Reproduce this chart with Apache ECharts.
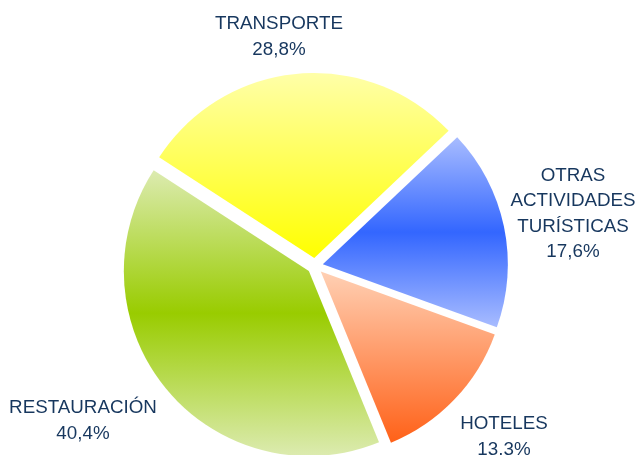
<!DOCTYPE html>
<html>
<head>
<meta charset="utf-8">
<script src="https://cdn.jsdelivr.net/npm/echarts@6/dist/echarts.min.js"></script>
<style>
  html, body { margin: 0; padding: 0; background: #fff; }
  #chart { width: 640px; height: 455px; }
</style>
</head>
<body>
<div id="chart"></div>
<script>
// categorías y porcentajes
var categories = ['TRANSPORTE', 'OTRAS\nACTIVIDADES\nTURÍSTICAS', 'HOTELES', 'RESTAURACIÓN'];
var values = [28.8, 17.6, 13.3, 40.4];
var labelTexts = ['28,8%', '17,6%', '13,3%', '40,4%'];

// degradados tipo Excel (arriba, medio, abajo)
var gradients = [
  [['#ffffa8', 0], ['#ffff00', 1]],
  [['#a8bcff', 0], ['#3366ff', 0.5], ['#a8bcff', 1]],
  [['#ffd0b4', 0], ['#ff6118', 1]],
  [['#dcebb0', 0], ['#99cc00', 0.5], ['#dcebb0', 1]]
];
// posiciones de las etiquetas (centro del bloque de texto)
var labelPos = [[279, 37], [573, 214], [504, 437], [83, 421]];
var LINE_H = 25.5;

var chart = echarts.init(document.getElementById('chart'));

var data = categories.map(function (name, i) {
  return {
    name: name,
    value: values[i],
    selected: true,
    itemStyle: {
      color: new echarts.graphic.LinearGradient(0, 0, 0, 1, gradients[i].map(function (g) {
        return { offset: g[1], color: g[0] };
      }))
    }
  };
});

// etiquetas como textos (el nombre y su porcentaje)
var labels = categories.map(function (name, i) {
  return {
    type: 'text',
    x: labelPos[i][0],
    y: labelPos[i][1],
    silent: true,
    style: {
      text: name + '\n' + labelTexts[i],
      fill: '#17375e',
      font: '18.8px "Liberation Sans", Arial, sans-serif',
      lineHeight: LINE_H,
      align: 'center',
      verticalAlign: 'middle'
    }
  };
});

chart.setOption({
  backgroundColor: '#fff',
  animation: false,
  graphic: labels,
  series: [{
    type: 'pie',
    center: [315, 266],
    radius: [0, 185],
    startAngle: 147,
    clockwise: true,
    selectedMode: 'multiple',
    selectedOffset: 8,
    data: data,
    label: { show: false },
    labelLine: { show: false },
    emphasis: { disabled: true }
  }]
});
</script>
</body>
</html>
